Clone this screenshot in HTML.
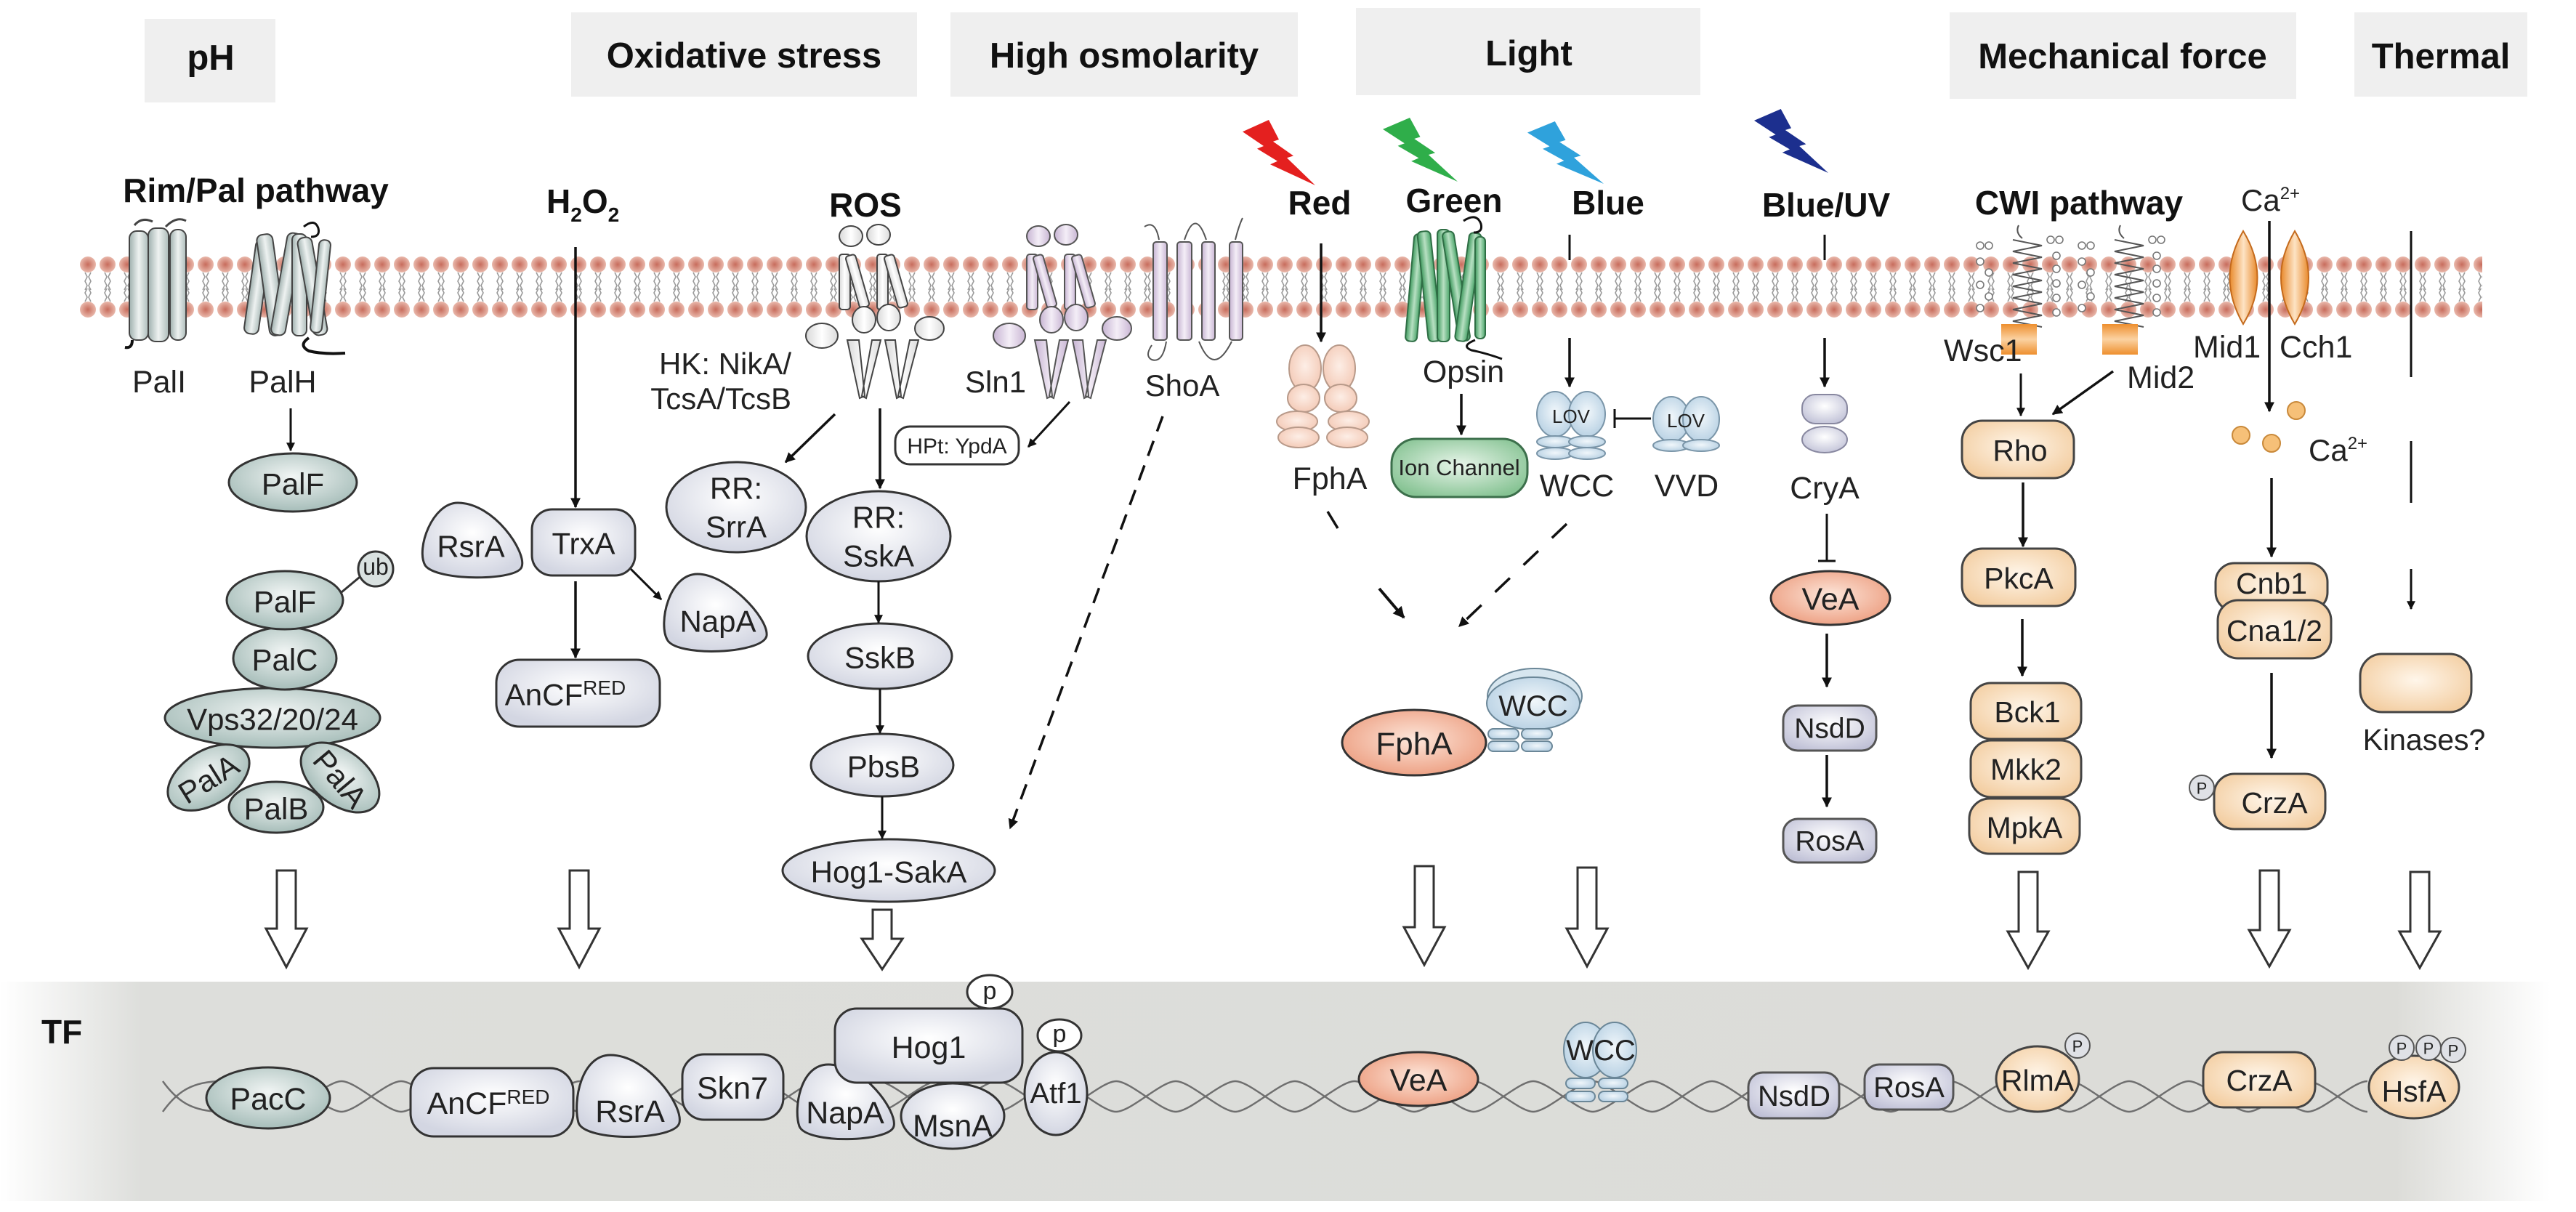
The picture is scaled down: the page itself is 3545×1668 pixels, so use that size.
<!DOCTYPE html>
<html><head><meta charset="utf-8"><style>
html,body{margin:0;padding:0;background:#fff}
svg{display:block}
text{font-family:"Liberation Sans",Arial,sans-serif;fill:#222}
.b{font-weight:bold;fill:#111}
</style></head><body>
<svg width="3545" height="1668" viewBox="0 0 3545 1668" xmlns="http://www.w3.org/2000/svg">
<defs>
<radialGradient id="gPal" cx="50%" cy="40%" r="60%"><stop offset="0" stop-color="#f1f5f4"/><stop offset="1" stop-color="#a6bdb9"/></radialGradient>
<radialGradient id="gOx" cx="50%" cy="40%" r="60%"><stop offset="0" stop-color="#ffffff"/><stop offset="1" stop-color="#d3d6e2"/></radialGradient>
<radialGradient id="gOr" cx="50%" cy="45%" r="60%"><stop offset="0" stop-color="#fff6ea"/><stop offset="1" stop-color="#f3cea2"/></radialGradient>
<radialGradient id="gSa" cx="50%" cy="45%" r="60%"><stop offset="0" stop-color="#fde6da"/><stop offset="1" stop-color="#ec9c7e"/></radialGradient>
<radialGradient id="gBl" cx="50%" cy="45%" r="60%"><stop offset="0" stop-color="#f1f7fb"/><stop offset="1" stop-color="#b5cfe2"/></radialGradient>
<radialGradient id="gGr" cx="50%" cy="45%" r="60%"><stop offset="0" stop-color="#e8f5ea"/><stop offset="1" stop-color="#86c393"/></radialGradient>
<radialGradient id="gPe" cx="50%" cy="45%" r="60%"><stop offset="0" stop-color="#fdeee6"/><stop offset="1" stop-color="#f3c8b4"/></radialGradient>
<radialGradient id="gLav" cx="50%" cy="45%" r="60%"><stop offset="0" stop-color="#f6f1f8"/><stop offset="1" stop-color="#cdbcd8"/></radialGradient>
<radialGradient id="gNs" cx="50%" cy="40%" r="65%"><stop offset="0" stop-color="#ffffff"/><stop offset="1" stop-color="#bfc0d6"/></radialGradient>
<radialGradient id="gHead" cx="50%" cy="50%" r="50%"><stop offset="0" stop-color="#c76c5c"/><stop offset="1" stop-color="#e9b8ab"/></radialGradient>
<linearGradient id="gCyl" x1="0" x2="1"><stop offset="0" stop-color="#9fb0ae"/><stop offset=".5" stop-color="#eef2f1"/><stop offset="1" stop-color="#aebdbb"/></linearGradient>
<linearGradient id="gCylW" x1="0" x2="1"><stop offset="0" stop-color="#d8d8d8"/><stop offset=".5" stop-color="#ffffff"/><stop offset="1" stop-color="#dcdcdc"/></linearGradient>
<linearGradient id="gCylL" x1="0" x2="1"><stop offset="0" stop-color="#c6b3d2"/><stop offset=".5" stop-color="#f4eef7"/><stop offset="1" stop-color="#c9b6d4"/></linearGradient>
<linearGradient id="gCylG" x1="0" x2="1"><stop offset="0" stop-color="#3f9a5e"/><stop offset=".5" stop-color="#b7e0c2"/><stop offset="1" stop-color="#4aa56a"/></linearGradient>
<linearGradient id="gCa" x1="0" x2="1"><stop offset="0" stop-color="#e98a2c"/><stop offset=".5" stop-color="#fde3c4"/><stop offset="1" stop-color="#e98a2c"/></linearGradient>
<linearGradient id="gSq" x1="0" x2="0" y1="0" y2="1"><stop offset="0" stop-color="#ee8f2e"/><stop offset=".5" stop-color="#fbd2a2"/><stop offset="1" stop-color="#ee8f2e"/></linearGradient>
<linearGradient id="gBand" x1="0" x2="1"><stop offset="0" stop-color="#ffffff"/><stop offset=".055" stop-color="#dddedb"/><stop offset=".93" stop-color="#dcdcd8"/><stop offset=".99" stop-color="#ffffff"/></linearGradient>
<pattern id="mem" x="108" y="0" width="27" height="1668" patternUnits="userSpaceOnUse">
<circle cx="13" cy="364" r="11" fill="url(#gHead)"/>
<circle cx="13" cy="426" r="11" fill="url(#gHead)"/>
<path d="M9,375 l3,6 -3,6 3,6 -3,6 M17,375 l-3,6 3,6 -3,6 3,6 M9,415 l3,-6 -3,-6 3,-6 M17,415 l-3,-6 3,-6 -3,-6" stroke="#9a9a9a" stroke-width="1.6" fill="none"/>
</pattern>
<marker id="ah" viewBox="0 0 10 10" refX="9" refY="5" markerWidth="4" markerHeight="4" orient="auto" markerUnits="strokeWidth"><path d="M0,0 L10,5 L0,10 Z" fill="#111"/></marker>
<marker id="ahs" viewBox="0 0 10 10" refX="9" refY="5" markerWidth="6" markerHeight="6" orient="auto" markerUnits="strokeWidth"><path d="M0,0 L10,5 L0,10 Z" fill="#111"/></marker>
<path id="bolt" d="M0,18 L36,0 L50,30 L42,33 L70,55 L61,58 L100,100 L38,68 L48,63 L20,44 L29,40 Z"/>
</defs>

<!-- header boxes -->
<g fill="#efefef">
<rect x="199" y="26" width="180" height="115"/>
<rect x="786" y="17" width="476" height="116"/>
<rect x="1308" y="17" width="478" height="116"/>
<rect x="1866" y="11" width="474" height="120"/>
<rect x="2683" y="17" width="477" height="119"/>
<rect x="3240" y="17" width="238" height="116"/>
</g>
<g class="b" font-size="49" text-anchor="middle">
<text x="290" y="96" class="b">pH</text>
<text x="1024" y="93" class="b">Oxidative stress</text>
<text x="1547" y="93" class="b">High osmolarity</text>
<text x="2104" y="90" class="b">Light</text>
<text x="2921" y="94" class="b">Mechanical force</text>
<text x="3359" y="94" class="b">Thermal</text>
</g>

<!-- TF band -->
<rect x="0" y="1351" width="3545" height="302" fill="url(#gBand)"/>
<text x="57" y="1436" class="b" font-size="46">TF</text>

<!-- membrane -->
<rect x="108" y="350" width="3308" height="90" fill="url(#mem)"/>

<!-- lightning -->
<use href="#bolt" transform="translate(1710,165) scale(1,0.9)" fill="#e4201f"/>
<use href="#bolt" transform="translate(1903,162) scale(1.03,0.88)" fill="#2fae4a"/>
<use href="#bolt" transform="translate(2102,167) scale(1.05,0.86)" fill="#2fa2dc"/>
<use href="#bolt" transform="translate(2414,150) scale(1.02,0.88)" fill="#1c2f8e"/>

<!-- top labels -->
<g font-size="46" class="b" text-anchor="middle">
<text x="352" y="278" class="b">Rim/Pal pathway</text>
<text x="1191" y="298" class="b">ROS</text>
<text x="1816" y="295" class="b">Red</text>
<text x="2001" y="292" class="b">Green</text>
<text x="2213" y="295" class="b">Blue</text>
<text x="2513" y="298" class="b">Blue/UV</text>
<text x="2861" y="295" class="b">CWI pathway</text>
</g>
<text x="752" y="293" class="b" font-size="46">H<tspan font-size="28" dy="12">2</tspan><tspan dy="-12">O</tspan><tspan font-size="28" dy="12">2</tspan></text>
<text x="3084" y="290" font-size="42">Ca<tspan font-size="24" dy="-16">2+</tspan></text>

<!-- PalI / PalH -->
<g stroke="#444" stroke-width="2">
<path d="M185,310 q10,-12 25,-5 M228,312 q15,-15 28,-8" fill="none" stroke-width="3"/>
<rect x="178" y="318" width="26" height="150" rx="10" fill="url(#gCyl)"/>
<rect x="204" y="314" width="28" height="156" rx="10" fill="url(#gCyl)"/>
<rect x="234" y="316" width="22" height="152" rx="10" fill="url(#gCyl)"/>
<path d="M182,468 q0,12 -10,10" fill="none" stroke="#111" stroke-width="4"/>
<g fill="url(#gCyl)">
<rect x="344" y="330" width="20" height="130" rx="8" transform="rotate(8 354 395)"/>
<rect x="362" y="322" width="22" height="140" rx="8" transform="rotate(-8 373 392)"/>
<rect x="384" y="320" width="20" height="142" rx="8" transform="rotate(10 394 391)"/>
<rect x="402" y="322" width="20" height="140" rx="8"/>
<rect x="420" y="326" width="20" height="136" rx="8" transform="rotate(-10 430 394)"/>
<rect x="433" y="330" width="16" height="128" rx="7" transform="rotate(6 441 394)"/>
</g>
<path d="M418,312 q15,-12 20,2 q3,12 -10,12" fill="none" stroke="#111" stroke-width="3"/>
<path d="M425,465 q-15,10 0,18 q20,5 50,3" fill="none" stroke="#111" stroke-width="4"/>
</g>
<g font-size="43" text-anchor="middle">
<text x="219" y="540">PalI</text>
<text x="389" y="540">PalH</text>
</g>

<!-- Pal column -->
<line x1="400" y1="562" x2="400" y2="620" stroke="#111" stroke-width="3" marker-end="url(#ah)"/>
<g stroke="#333" stroke-width="3" fill="url(#gPal)">
<ellipse cx="403" cy="664" rx="88" ry="40"/>
<line x1="470" y1="815" x2="500" y2="790"/>
<circle cx="517" cy="783" r="24" fill="#d9e1e0"/>
<ellipse cx="375" cy="988" rx="148" ry="41"/>
<ellipse cx="287" cy="1070" rx="62" ry="37" transform="rotate(-32 287 1070)"/>
<ellipse cx="468" cy="1070" rx="62" ry="37" transform="rotate(38 468 1070)"/>
<ellipse cx="380" cy="1111" rx="65" ry="35"/>
<ellipse cx="392" cy="906" rx="71" ry="43"/>
<ellipse cx="392" cy="826" rx="80" ry="40"/>
</g>
<g font-size="42" text-anchor="middle" dominant-baseline="central">
<text x="403" y="666">PalF</text>
<text x="517" y="780" font-size="32">ub</text>
<text x="392" y="828">PalF</text>
<text x="392" y="908">PalC</text>
<text x="375" y="990">Vps32/20/24</text>
<text x="287" y="1072" transform="rotate(-32 287 1072)">PalA</text>
<text x="468" y="1072" transform="rotate(50 468 1072)">PalA</text>
<text x="380" y="1113">PalB</text>
</g>

<!-- Oxidative H2O2 column -->
<line x1="792" y1="340" x2="792" y2="698" stroke="#111" stroke-width="3.5" marker-end="url(#ah)"/>
<line x1="792" y1="800" x2="792" y2="905" stroke="#111" stroke-width="3.5" marker-end="url(#ah)"/>
<line x1="866" y1="781" x2="910" y2="825" stroke="#111" stroke-width="3" marker-end="url(#ah)"/>
<g stroke="#333" stroke-width="3" fill="url(#gOx)">
<path d="M630,692 C680,692 725,760 718,780 C712,800 600,800 585,778 C572,755 595,692 630,692 Z"/>
<rect x="732" y="701" width="142" height="91" rx="28"/>
<path d="M960,790 C1000,790 1058,850 1055,875 C1050,900 930,905 918,880 C906,858 920,790 960,790 Z"/>
<rect x="683" y="908" width="225" height="92" rx="32"/>
</g>
<g font-size="42" text-anchor="middle" dominant-baseline="central">
<text x="648" y="752">RsrA</text>
<text x="803" y="748">TrxA</text>
<text x="988" y="855">NapA</text>
<text x="778" y="956">AnCF<tspan font-size="28" dy="-10">RED</tspan></text>
</g>

<!-- HK receptors -->
<g id="hk" stroke="#444" stroke-width="2" fill="url(#gCylW)">
<ellipse cx="1171" cy="325" rx="16" ry="14"/><ellipse cx="1209" cy="323" rx="16" ry="14"/>
<rect x="1155" y="350" width="15" height="76" rx="4"/>
<rect x="1173" y="350" width="14" height="74" rx="4" transform="rotate(-16 1180 387)"/>
<rect x="1207" y="350" width="15" height="76" rx="4"/>
<rect x="1226" y="350" width="14" height="74" rx="4" transform="rotate(-16 1233 387)"/>
<ellipse cx="1189" cy="440" rx="16" ry="18"/><ellipse cx="1223" cy="437" rx="16" ry="18"/>
<ellipse cx="1131" cy="462" rx="22" ry="17"/><ellipse cx="1279" cy="452" rx="20" ry="16"/>
<path d="M1166,468 L1182,468 L1190,545 L1183,548 Z M1200,468 L1186,545 L1192,548 L1212,468 Z"/>
<path d="M1218,468 L1232,468 L1240,545 L1234,548 Z M1252,468 L1236,545 L1243,548 L1264,468 Z"/>
</g>
<g stroke="#555" stroke-width="2" fill="url(#gCylL)" transform="translate(258,0)">
<ellipse cx="1171" cy="325" rx="16" ry="14"/><ellipse cx="1209" cy="323" rx="16" ry="14"/>
<rect x="1155" y="350" width="15" height="76" rx="4"/>
<rect x="1173" y="350" width="14" height="74" rx="4" transform="rotate(-16 1180 387)"/>
<rect x="1207" y="350" width="15" height="76" rx="4"/>
<rect x="1226" y="350" width="14" height="74" rx="4" transform="rotate(-16 1233 387)"/>
<ellipse cx="1189" cy="440" rx="16" ry="18"/><ellipse cx="1223" cy="437" rx="16" ry="18"/>
<ellipse cx="1131" cy="462" rx="22" ry="17"/><ellipse cx="1279" cy="452" rx="20" ry="16"/>
<path d="M1166,468 L1182,468 L1190,545 L1183,548 Z M1200,468 L1186,545 L1192,548 L1212,468 Z"/>
<path d="M1218,468 L1232,468 L1240,545 L1234,548 Z M1252,468 L1236,545 L1243,548 L1264,468 Z"/>
</g>
<!-- ShoA -->
<g stroke="#555" stroke-width="2">
<path d="M1575,312 q15,-10 20,18 M1605,470 q-5,30 -20,25 q-10,-5 0,-20 M1630,330 q15,-45 30,0 M1650,470 q20,50 45,0 M1700,330 q5,-20 10,-30" fill="none"/>
<g fill="url(#gCylL)">
<rect x="1587" y="333" width="19" height="135" rx="4"/>
<rect x="1620" y="333" width="20" height="135" rx="4"/>
<rect x="1654" y="333" width="18" height="135" rx="4"/>
<rect x="1692" y="333" width="18" height="135" rx="4"/>
</g>
</g>
<g font-size="42" text-anchor="middle">
<text x="993" y="513" text-anchor="end" x2="0"></text>
<text x="1089" y="515" text-anchor="end">HK: NikA/</text>
<text x="1089" y="563" text-anchor="end">TcsA/TcsB</text>
<text x="1370" y="540">Sln1</text>
<text x="1627" y="545">ShoA</text>
</g>
<line x1="1149" y1="570" x2="1081" y2="636" stroke="#111" stroke-width="3.5" marker-end="url(#ah)"/>
<line x1="1211" y1="562" x2="1211" y2="672" stroke="#111" stroke-width="3.5" marker-end="url(#ah)"/>
<line x1="1472" y1="553" x2="1415" y2="615" stroke="#111" stroke-width="3" marker-end="url(#ah)"/>
<rect x="1232" y="587" width="170" height="52" rx="20" fill="#fff" stroke="#333" stroke-width="3"/>
<text x="1317" y="624" font-size="30" text-anchor="middle">HPt: YpdA</text>
<line x1="1600" y1="573" x2="1390" y2="1140" stroke="#111" stroke-width="3.5" stroke-dasharray="22,14" marker-end="url(#ah)"/>
<g stroke="#333" stroke-width="3" fill="url(#gOx)">
<ellipse cx="1013" cy="698" rx="96" ry="62"/>
<ellipse cx="1209" cy="738" rx="99" ry="62"/>
<ellipse cx="1211" cy="903" rx="99" ry="45"/>
<ellipse cx="1214" cy="1053" rx="98" ry="43"/>
<ellipse cx="1223" cy="1198" rx="146" ry="43"/>
</g>
<g stroke="#111" stroke-width="3" marker-end="url(#ah)">
<line x1="1209" y1="800" x2="1209" y2="857"/>
<line x1="1211" y1="948" x2="1211" y2="1009"/>
<line x1="1214" y1="1096" x2="1214" y2="1154"/>
</g>
<g font-size="42" text-anchor="middle" dominant-baseline="central">
<text x="1013" y="672">RR:</text><text x="1013" y="725">SrrA</text>
<text x="1209" y="712">RR:</text><text x="1209" y="765">SskA</text>
<text x="1211" y="905">SskB</text>
<text x="1216" y="1055">PbsB</text>
<text x="1223" y="1200">Hog1-SakA</text>
</g>

<!-- Light -->
<line x1="1818" y1="335" x2="1818" y2="470" stroke="#111" stroke-width="3.5" marker-end="url(#ah)"/>
<g stroke="#b89a8a" stroke-width="2" fill="url(#gPe)">
<ellipse cx="1796" cy="507" rx="22" ry="32"/><ellipse cx="1843" cy="507" rx="22" ry="32"/>
<ellipse cx="1794" cy="548" rx="22" ry="19"/><ellipse cx="1845" cy="548" rx="22" ry="19"/>
<ellipse cx="1785" cy="580" rx="28" ry="14"/><ellipse cx="1856" cy="580" rx="28" ry="14"/>
<ellipse cx="1787" cy="602" rx="28" ry="14"/><ellipse cx="1854" cy="602" rx="28" ry="14"/>
</g>
<g stroke="#2f6e45" stroke-width="2" fill="url(#gCylG)">
<rect x="1940" y="322" width="16" height="148" rx="6" transform="rotate(5 1948 396)"/>
<rect x="1958" y="318" width="18" height="152" rx="6" transform="rotate(-6 1967 394)"/>
<rect x="1978" y="316" width="17" height="154" rx="6"/>
<rect x="1996" y="318" width="16" height="152" rx="6" transform="rotate(-9 2004 394)"/>
<rect x="2012" y="320" width="17" height="150" rx="6" transform="rotate(8 2020 395)"/>
<rect x="2030" y="326" width="14" height="140" rx="6"/>
</g>
<path d="M2014,304 q18,-12 24,4 q3,12 -10,12 M2030,468 q-20,8 -5,14 q20,4 42,12" fill="none" stroke="#111" stroke-width="3"/>
<text x="2014" y="526" font-size="43" text-anchor="middle">Opsin</text>
<line x1="2011" y1="542" x2="2011" y2="598" stroke="#111" stroke-width="3.5" marker-end="url(#ah)"/>
<rect x="1915" y="604" width="187" height="80" rx="34" fill="url(#gGr)" stroke="#3c6f4b" stroke-width="3"/>
<text x="2008" y="654" font-size="31" text-anchor="middle">Ion Channel</text>
<line x1="2160" y1="323" x2="2160" y2="358" stroke="#111" stroke-width="3"/>
<line x1="2160" y1="465" x2="2160" y2="532" stroke="#111" stroke-width="3.5" marker-end="url(#ah)"/>
<g stroke="#7a95a8" stroke-width="2" fill="url(#gBl)">
<ellipse cx="2140" cy="570" rx="25" ry="31"/><ellipse cx="2184" cy="570" rx="25" ry="31"/>
<ellipse cx="2140" cy="608" rx="25" ry="8"/><ellipse cx="2184" cy="608" rx="25" ry="8"/>
<ellipse cx="2140" cy="624" rx="25" ry="8"/><ellipse cx="2184" cy="624" rx="25" ry="8"/>
<ellipse cx="2300" cy="577" rx="25" ry="31"/><ellipse cx="2341" cy="577" rx="25" ry="31"/>
<ellipse cx="2300" cy="613" rx="25" ry="8"/><ellipse cx="2341" cy="613" rx="25" ry="8"/>
</g>
<text x="2162" y="582" font-size="26" text-anchor="middle">LOV</text>
<text x="2320" y="588" font-size="26" text-anchor="middle">LOV</text>
<path d="M2272,576 L2222,576 M2222,563 L2222,589" stroke="#111" stroke-width="3" fill="none"/>
<g font-size="43" text-anchor="middle">
<text x="1830" y="673">FphA</text>
<text x="2170" y="683">WCC</text>
<text x="2321" y="683">VVD</text>
<text x="2511" y="686">CryA</text>
</g>
<line x1="1827" y1="704" x2="1841" y2="727" stroke="#111" stroke-width="3.5"/>
<line x1="1898" y1="810" x2="1932" y2="850" stroke="#111" stroke-width="4" marker-end="url(#ah)"/>
<line x1="2156" y1="721" x2="2008" y2="862" stroke="#111" stroke-width="3.5" stroke-dasharray="28,26" marker-end="url(#ah)"/>
<ellipse cx="1946" cy="1022" rx="99" ry="45" fill="url(#gSa)" stroke="#333" stroke-width="3"/>
<text x="1946" y="1024" font-size="44" text-anchor="middle" dominant-baseline="central">FphA</text>
<g stroke="#6b8798" stroke-width="2" fill="url(#gBl)">
<ellipse cx="2112" cy="958" rx="65" ry="38" fill="#d7e6ef"/>
<ellipse cx="2110" cy="968" rx="64" ry="36"/>
<rect x="2048" y="1003" width="42" height="14" rx="7"/><rect x="2094" y="1003" width="42" height="14" rx="7"/>
<rect x="2048" y="1020" width="42" height="14" rx="7"/><rect x="2094" y="1020" width="42" height="14" rx="7"/>
</g>
<text x="2110" y="972" font-size="40" text-anchor="middle" dominant-baseline="central">WCC</text>

<!-- Blue/UV -->
<line x1="2511" y1="323" x2="2511" y2="358" stroke="#111" stroke-width="3"/>
<line x1="2511" y1="465" x2="2511" y2="532" stroke="#111" stroke-width="3.5" marker-end="url(#ah)"/>
<g stroke="#8888a0" stroke-width="2" fill="url(#gNs)">
<rect x="2480" y="543" width="62" height="40" rx="18"/>
<ellipse cx="2511" cy="605" rx="31" ry="18"/>
</g>
<path d="M2514,707 L2514,772 M2502,772 L2526,772" stroke="#111" stroke-width="3" fill="none"/>
<ellipse cx="2519" cy="823" rx="82" ry="37" fill="url(#gSa)" stroke="#333" stroke-width="3"/>
<text x="2519" y="825" font-size="43" text-anchor="middle" dominant-baseline="central">VeA</text>
<line x1="2514" y1="872" x2="2514" y2="945" stroke="#111" stroke-width="3.5" marker-end="url(#ah)"/>
<line x1="2514" y1="1039" x2="2514" y2="1110" stroke="#111" stroke-width="3.5" marker-end="url(#ah)"/>
<g stroke="#555" stroke-width="3" fill="url(#gNs)">
<rect x="2454" y="971" width="128" height="62" rx="20"/>
<rect x="2454" y="1127" width="128" height="60" rx="20"/>
</g>
<g font-size="39" text-anchor="middle" dominant-baseline="central">
<text x="2518" y="1003">NsdD</text>
<text x="2518" y="1158">RosA</text>
</g>

<!-- CWI -->
<g stroke="#555" stroke-width="2" fill="none">
<path d="M2778,310 q-5,10 5,18 M2770,330 l40,8 -40,8 40,8 -40,8 40,8 -40,8 40,8 -40,8 40,8 -40,8 40,8 -40,8 40,8 -40,8 40,8"/>
<path d="M2918,310 q-5,10 5,18 M2910,330 l40,8 -40,8 40,8 -40,8 40,8 -40,8 40,8 -40,8 40,8 -40,8 40,8 -40,8 40,8 -40,8 40,8"/>
<g stroke="#777" stroke-width="1.6" fill="#fff">
<circle cx="2725" cy="338" r="5"/><circle cx="2737" cy="338" r="5"/><circle cx="2725" cy="360" r="5"/><circle cx="2737" cy="375" r="5"/><circle cx="2725" cy="392" r="5"/><circle cx="2737" cy="408" r="5"/><circle cx="2725" cy="424" r="5"/>
<circle cx="2822" cy="330" r="5"/><circle cx="2834" cy="330" r="5"/><circle cx="2830" cy="352" r="5"/><circle cx="2830" cy="370" r="5"/><circle cx="2830" cy="390" r="5"/><circle cx="2830" cy="410" r="5"/><circle cx="2830" cy="430" r="5"/>
<circle cx="2865" cy="338" r="5"/><circle cx="2877" cy="338" r="5"/><circle cx="2865" cy="360" r="5"/><circle cx="2877" cy="375" r="5"/><circle cx="2865" cy="392" r="5"/><circle cx="2877" cy="408" r="5"/><circle cx="2865" cy="424" r="5"/>
<circle cx="2962" cy="330" r="5"/><circle cx="2974" cy="330" r="5"/><circle cx="2968" cy="352" r="5"/><circle cx="2968" cy="370" r="5"/><circle cx="2968" cy="390" r="5"/><circle cx="2968" cy="410" r="5"/><circle cx="2968" cy="430" r="5"/>
</g>
</g>
<rect x="2754" y="446" width="49" height="42" fill="url(#gSq)"/>
<rect x="2893" y="446" width="49" height="42" fill="url(#gSq)"/>
<g font-size="43">
<text x="2675" y="497">Wsc1</text>
<text x="2927" y="534">Mid2</text>
<text x="3018" y="492">Mid1</text>
<text x="3137" y="492">Cch1</text>
</g>
<line x1="2781" y1="514" x2="2781" y2="572" stroke="#111" stroke-width="3" marker-end="url(#ah)"/>
<line x1="2908" y1="511" x2="2825" y2="570" stroke="#111" stroke-width="3.5" marker-end="url(#ah)"/>
<path d="M3087,318 Q3050,382 3087,446 Q3126,382 3087,318 Z" fill="url(#gCa)" stroke="#c46a1c" stroke-width="2"/>
<path d="M3158,318 Q3120,382 3158,446 Q3196,382 3158,318 Z" fill="url(#gCa)" stroke="#c46a1c" stroke-width="2"/>
<line x1="3123" y1="304" x2="3123" y2="566" stroke="#111" stroke-width="3.5" marker-end="url(#ah)"/>
<g fill="#f6c078" stroke="#c9893a" stroke-width="2">
<circle cx="3160" cy="565" r="12"/><circle cx="3084" cy="599" r="12"/><circle cx="3126" cy="610" r="12"/>
</g>
<text x="3177" y="634" font-size="42">Ca<tspan font-size="24" dy="-16">2+</tspan></text>
<g stroke="#111" stroke-width="3">
<line x1="3318" y1="318" x2="3318" y2="519"/>
<line x1="3318" y1="607" x2="3318" y2="692"/>
<line x1="3318" y1="783" x2="3318" y2="838" marker-end="url(#ah)"/>
<line x1="2784" y1="664" x2="2784" y2="752" marker-end="url(#ah)" stroke-width="3.5"/>
<line x1="2783" y1="852" x2="2783" y2="930" marker-end="url(#ah)" stroke-width="3.5"/>
<line x1="3126" y1="658" x2="3126" y2="766" marker-end="url(#ah)" stroke-width="3.5"/>
<line x1="3126" y1="926" x2="3126" y2="1043" marker-end="url(#ah)" stroke-width="3.5"/>
</g>
<g stroke="#444" stroke-width="3" fill="url(#gOr)">
<rect x="2700" y="579" width="154" height="79" rx="28"/>
<rect x="2700" y="755" width="156" height="79" rx="28"/>
<rect x="2710" y="1099" width="152" height="76" rx="28"/>
<rect x="2712" y="1019" width="152" height="78" rx="28"/>
<rect x="2712" y="940" width="152" height="77" rx="28"/>
<rect x="3049" y="775" width="154" height="66" rx="26"/>
<rect x="3052" y="826" width="156" height="80" rx="28"/>
<rect x="3047" y="1065" width="153" height="76" rx="28"/>
<rect x="3248" y="900" width="153" height="80" rx="30"/>
</g>
<circle cx="3030" cy="1084" r="17" fill="#dfe1e6" stroke="#555" stroke-width="2"/>
<g font-size="41" text-anchor="middle" dominant-baseline="central">
<text x="2780" y="620">Rho</text>
<text x="2778" y="796">PkcA</text>
<text x="2790" y="980">Bck1</text>
<text x="2788" y="1059">Mkk2</text>
<text x="2786" y="1139">MpkA</text>
<text x="3126" y="803">Cnb1</text>
<text x="3130" y="868">Cna1/2</text>
<text x="3130" y="1105">CrzA</text>
<text x="3030" y="1085" font-size="22">P</text>
<text x="3336" y="1018">Kinases?</text>
</g>

<!-- hollow arrows -->
<g fill="#fff" stroke="#333" stroke-width="3">
<path d="M381,1198 h26 v80 h15 l-28,53 l-28,-53 h15 Z"/>
<path d="M784,1198 h26 v80 h15 l-28,53 l-28,-53 h15 Z"/>
<path d="M1201,1252 h26 v40 h15 l-28,42 l-28,-42 h15 Z"/>
<path d="M1947,1192 h26 v84 h15 l-28,52 l-28,-52 h15 Z"/>
<path d="M2171,1194 h26 v84 h15 l-28,52 l-28,-52 h15 Z"/>
<path d="M2778,1200 h26 v82 h15 l-28,50 l-28,-50 h15 Z"/>
<path d="M3110,1198 h26 v82 h15 l-28,50 l-28,-50 h15 Z"/>
<path d="M3317,1200 h26 v82 h15 l-28,50 l-28,-50 h15 Z"/>
</g>

<!-- DNA -->
<g fill="none" stroke="#6f6f6f" stroke-width="2.5">
<path id="dna1" d="M224,1530 c20,-28 41,-42 82,-42 s62,42 82,42 s62,-42 82,-42 s62,42 82,42 s62,-42 82,-42 s62,42 82,42 s62,-42 82,-42 s62,42 82,42 s62,-42 82,-42 s62,42 82,42 s62,-42 82,-42 s62,42 82,42 s62,-42 82,-42 s62,42 82,42 s62,-42 82,-42 s62,42 82,42 s62,-42 82,-42 s62,42 82,42 s62,-42 82,-42 s62,42 82,42 s62,-42 82,-42 s62,42 82,42 s62,-42 82,-42 s62,42 82,42 s62,-42 82,-42 s62,42 82,42 s62,-42 82,-42 s62,42 82,42 s62,-42 82,-42 s62,42 82,42 s62,-42 82,-42 s62,42 82,42 s62,-42 82,-42 s62,42 82,42 s62,-42 82,-42 s62,42 82,42 s62,-42 82,-42"/>
<path d="M224,1488 c20,28 41,42 82,42 s62,-42 82,-42 s62,42 82,42 s62,-42 82,-42 s62,42 82,42 s62,-42 82,-42 s62,42 82,42 s62,-42 82,-42 s62,42 82,42 s62,-42 82,-42 s62,42 82,42 s62,-42 82,-42 s62,42 82,42 s62,-42 82,-42 s62,42 82,42 s62,-42 82,-42 s62,42 82,42 s62,-42 82,-42 s62,42 82,42 s62,-42 82,-42 s62,42 82,42 s62,-42 82,-42 s62,42 82,42 s62,-42 82,-42 s62,42 82,42 s62,-42 82,-42 s62,42 82,42 s62,-42 82,-42 s62,42 82,42 s62,-42 82,-42 s62,42 82,42 s62,-42 82,-42 s62,42 82,42 s62,-42 82,-42 s62,42 82,42 s62,-42 82,-42 s62,42 82,42"/>
</g>

<!-- TF proteins -->
<g stroke="#333" stroke-width="3">
<ellipse cx="369" cy="1511" rx="85" ry="42" fill="url(#gPal)"/>
<rect x="565" y="1470" width="224" height="94" rx="32" fill="url(#gOx)"/>
<path d="M840,1452 C890,1452 940,1520 935,1545 C930,1570 805,1572 796,1545 C788,1515 800,1452 840,1452 Z" fill="url(#gOx)"/>
<rect x="939" y="1451" width="139" height="90" rx="30" fill="url(#gOx)"/>
<path d="M1140,1465 C1190,1465 1235,1530 1230,1550 C1225,1572 1110,1575 1100,1550 C1092,1528 1100,1465 1140,1465 Z" fill="url(#gOx)"/>
<rect x="1149" y="1388" width="258" height="102" rx="30" fill="url(#gOx)"/>
<ellipse cx="1311" cy="1536" rx="71" ry="45" fill="url(#gOx)"/>
<ellipse cx="1362" cy="1365" rx="31" ry="23" fill="#fff"/>
<ellipse cx="1453" cy="1505" rx="43" ry="57" fill="url(#gOx)"/>
<ellipse cx="1458" cy="1425" rx="30" ry="22" fill="#fff"/>
<ellipse cx="1952" cy="1485" rx="82" ry="37" fill="url(#gSa)"/>
</g>
<g stroke="#6b8798" stroke-width="2" fill="url(#gBl)">
<ellipse cx="2182" cy="1445" rx="30" ry="38"/><ellipse cx="2222" cy="1445" rx="30" ry="38"/>
<rect x="2155" y="1484" width="40" height="14" rx="7"/><rect x="2200" y="1484" width="40" height="14" rx="7"/>
<rect x="2155" y="1502" width="40" height="14" rx="7"/><rect x="2200" y="1502" width="40" height="14" rx="7"/>
</g>
<g stroke="#555" stroke-width="3" fill="url(#gNs)">
<rect x="2406" y="1476" width="125" height="63" rx="20"/>
<rect x="2566" y="1465" width="122" height="62" rx="20"/>
</g>
<g stroke="#444" stroke-width="3" fill="url(#gOr)">
<ellipse cx="2804" cy="1485" rx="57" ry="45"/>
<rect x="3032" y="1448" width="154" height="76" rx="28"/>
<ellipse cx="3322" cy="1496" rx="62" ry="43"/>
</g>
<g fill="#dfe1e6" stroke="#555" stroke-width="2">
<circle cx="2859" cy="1439" r="17"/>
<circle cx="3305" cy="1442" r="17"/><circle cx="3342" cy="1442" r="17"/><circle cx="3376" cy="1445" r="17"/>
</g>
<g font-size="43" text-anchor="middle" dominant-baseline="central">
<text x="369" y="1513">PacC</text>
<text x="672" y="1519">AnCF<tspan font-size="28" dy="-10">RED</tspan></text>
<text x="867" y="1530">RsrA</text>
<text x="1008" y="1498">Skn7</text>
<text x="1163" y="1532">NapA</text>
<text x="1278" y="1442">Hog1</text>
<text x="1311" y="1550">MsnA</text>
<text x="1362" y="1364" font-size="34">p</text>
<text x="1453" y="1505" font-size="40">Atf1</text>
<text x="1458" y="1423" font-size="34">p</text>
<text x="1952" y="1487">VeA</text>
<text x="2203" y="1446" font-size="40">WCC</text>
<text x="2469" y="1509" font-size="40">NsdD</text>
<text x="2627" y="1497" font-size="40">RosA</text>
<text x="2804" y="1487" font-size="41">RlmA</text>
<text x="3109" y="1487" font-size="41">CrzA</text>
<text x="3322" y="1502" font-size="41">HsfA</text>
<g font-size="22"><text x="2859" y="1440">P</text><text x="3305" y="1443">P</text><text x="3342" y="1443">P</text><text x="3376" y="1446">P</text></g>
</g>
</svg>
</body></html>
